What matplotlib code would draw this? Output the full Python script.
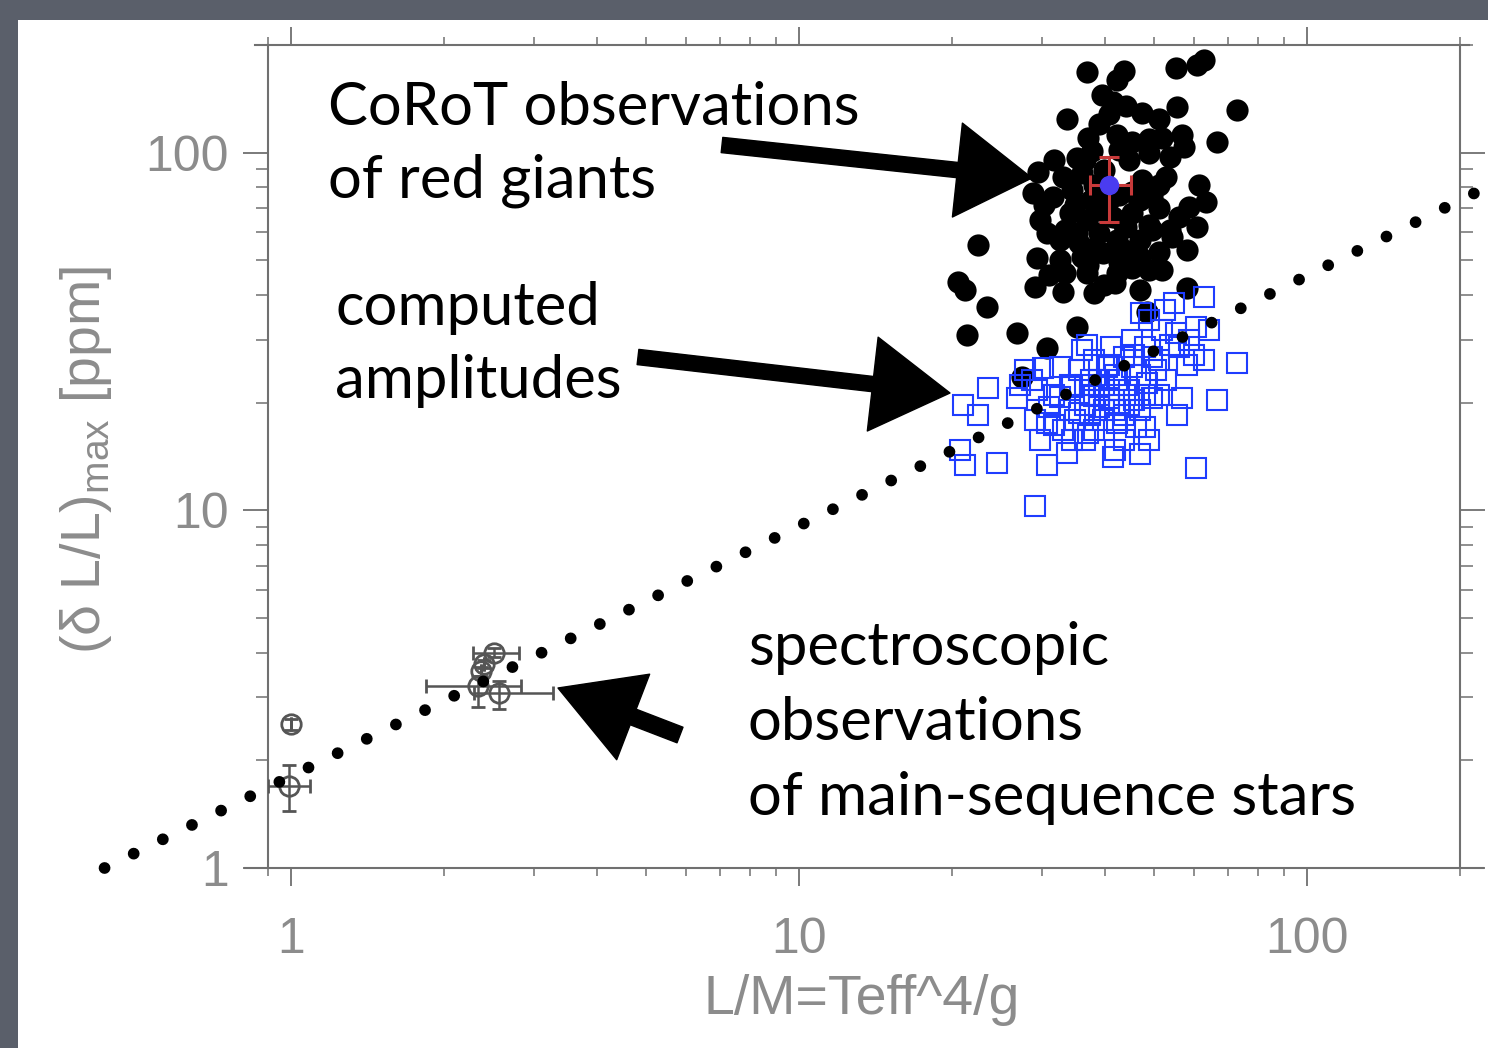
import matplotlib
matplotlib.use('Agg')
import matplotlib.pyplot as plt
from matplotlib.patches import FancyArrowPatch, Rectangle
from matplotlib.ticker import NullFormatter

# CoRoT red giants (filled black dots)
giant_x = [36.8, 43.7, 42.2, 55.3, 60.8, 62.8, 39.4, 41.4, 44.1, 47.4, 40.8, 55.5, 72.9,
           33.6, 66.6, 37.0, 42.3, 45.3, 51.7, 56.8, 57.3, 35.2, 37.8, 48.9, 53.6, 29.5,
           33.0, 36.0, 47.4, 52.8, 28.8, 31.6, 34.5, 37.6, 45.3, 49.6, 63.3, 58.6, 29.8,
           34.1, 36.8, 41.4, 45.3, 51.2, 56.0, 30.7, 35.2, 39.0, 44.1, 49.6, 60.8, 22.5,
           35.6, 42.2, 46.8, 54.3, 57.9, 29.4, 32.6, 36.1, 39.6, 46.8, 51.2, 33.3, 36.8,
           42.2, 45.3, 51.7, 20.5, 21.2, 23.4, 29.1, 33.0, 38.1, 41.8, 35.3, 21.4, 26.8,
           57.9, 48.3, 27.5, 30.7, 38.1, 42.7, 39.0, 43.7, 37.0, 48.9, 39.9, 32.6, 44.7,
           31.8, 42.7, 51.2, 30.4, 33.3, 38.1, 42.7, 48.9, 39.9, 46.8, 53.6, 43.7, 34.9,
           40.8, 46.8, 36.5, 48.9, 39.0, 51.2, 61.3, 31.1]
giant_y = [168, 169, 160, 172, 176, 182, 145, 139, 135, 129, 128, 134, 132,
           124, 107, 110, 112, 107, 110, 112, 104, 96.8, 101, 100, 97.4, 88.5,
           85.7, 87.9, 84.0, 85.7, 77.3, 75.3, 78.8, 73.9, 77.8, 75.3, 72.9, 70.6, 64.9,
           67.9, 64.9, 66.2, 67.9, 70.2, 66.2, 59.7, 59.7, 59.7, 62.0, 60.8, 62.0, 55.3,
           56.0, 57.1, 57.1, 58.2, 53.5, 50.8, 50.1, 51.1, 52.5, 51.1, 52.8, 46.1, 46.1,
           46.1, 47.6, 47.0, 43.5, 41.3, 37.0, 42.1, 40.8, 40.5, 43.3, 32.6, 30.9, 31.3,
           41.9, 35.9, 23.6, 28.4, 81.4, 76.3, 69.2, 53.5, 48.6, 62.9, 89.6, 57.1, 95.6,
           95.6, 102, 81.4, 71.5, 60.8, 54.2, 49.5, 47.0, 42.7, 41.3, 60.8, 62.9, 71.5,
           73.9, 73.9, 95.6, 109, 120, 124, 81.4, 45.5]

# computed amplitudes (open blue squares)
model_x = [62.8, 54.8, 47.2, 60.5, 55.3, 62.8, 72.9, 57.9, 66.6, 56.8, 55.5, 60.5, 21.0,
           22.5, 23.5, 26.8, 27.8, 29.4, 30.2, 30.8, 29.8, 33.0, 33.6, 30.8, 34.5, 36.0,
           37.0, 41.4, 41.8, 46.8, 47.9, 42.2, 46.1, 20.7, 21.2, 24.5, 29.1, 49.6, 50.5,
           41.2, 36.8, 45.3, 51.9, 49.4, 40.3, 34.5, 39.0, 44.7, 52.8, 56.0, 32.6, 37.6,
           42.3, 45.3, 48.5, 35.6, 32.6, 39.6, 31.1, 28.7, 46.8, 38.1, 40.8, 42.7, 36.5,
           43.7, 38.1, 47.9, 51.2, 34.1, 39.9, 35.6, 48.9, 27.2, 31.8, 52.4,
           37.3, 41.8, 44.7, 39.0, 46.8, 34.9, 38.1, 43.7, 51.2, 40.8, 34.1, 31.8, 45.7,
           53.6, 58.6, 60.0, 64.2, 36.5, 48.9, 29.1,
           36.5, 39.0, 42.7, 45.7, 39.9, 37.3, 43.7, 47.9, 41.8]
model_y = [39.5, 38.0, 35.6, 32.6, 31.3, 26.3, 25.8, 25.5, 20.3, 20.6, 18.5, 13.1, 19.7,
           18.5, 22.0, 20.6, 24.7, 21.7, 25.0, 17.5, 15.7, 16.8, 14.5, 13.4, 15.7, 28.1,
           16.5, 14.1, 14.7, 14.4, 17.1, 17.5, 17.1, 14.7, 13.4, 13.6, 10.3, 20.6, 24.7,
           28.6, 29.0, 29.9, 31.9, 26.8, 25.2, 22.1, 19.4, 21.7, 23.1, 28.6, 20.7, 23.1,
           23.1, 25.2, 22.7, 18.7, 25.2, 17.9, 19.4, 23.1, 19.1, 20.9, 20.6, 19.7, 19.7,
           26.8, 26.3, 28.6, 26.3, 19.1, 22.4, 24.7, 34.0, 22.4, 17.3, 36.3,
           21.0, 19.1, 19.7, 23.1, 23.9, 17.9, 16.8, 15.7, 21.0, 25.5, 22.4, 21.0, 27.2,
           29.0, 29.9, 27.2, 31.9, 15.7, 15.7, 17.9,
           22.4, 21.0, 21.7, 20.3, 19.1, 18.5, 18.5, 21.0, 23.9]

# spectroscopic observations of main-sequence stars
ms_x = [0.99, 1.00, 2.51, 2.40, 2.36, 2.33, 2.56]
ms_y = [1.70, 2.52, 4.00, 3.72, 3.55, 3.23, 3.09]
ms_xerr_lo = [0.09, 0.0, 0.23, 0.0, 0.0, 0.49, 0.27]
ms_xerr_hi = [0.10, 0.0, 0.30, 0.0, 0.0, 0.50, 0.71]
ms_yerr_lo = [0.26, 0.09, 0.12, 0.10, 0.10, 0.41, 0.30]
ms_yerr_hi = [0.24, 0.09, 0.12, 0.10, 0.10, 0.22, 0.25]

# mean of the CoRoT sample
mean_x = [40.8]
mean_y = [81.4]
mean_xerr = [[3.5], [4.3]]
mean_yerr = [[17.3], [16.1]]

# scaling relation (dotted)
fit_x = [0.429, 240]
fit_y = [1.0, 83.6]

x_ticks = [1, 10, 100]
y_ticks = [1, 10, 100]
tick_labels = ['1', '10', '100']

W, H = 1488, 1048
grey = '#8c8c8c'
axis_grey = '#707070'

plt.rcParams['font.family'] = ['Liberation Sans', 'DejaVu Sans']
plt.rcParams['mathtext.fontset'] = 'custom'
plt.rcParams['mathtext.rm'] = 'Liberation Sans'

fig = plt.figure(figsize=(W / 100, H / 100), dpi=100, facecolor='#5a5f6a')
# white slide area, kept behind the axes
fig.patches.append(Rectangle((18 / W, 0), 1, 1 - 20 / H, transform=fig.transFigure,
                             facecolor='white', edgecolor='none', zorder=-10))

ax = fig.add_axes([268 / W, 180 / H, 1192 / W, 823 / H])
ax.set_xscale('log')
ax.set_yscale('log')
ax.set_xlim(0.9, 200)
ax.set_ylim(1, 200)

ax.plot(giant_x, giant_y, 'o', color='black', ms=16, mec='none', zorder=2)
ax.plot(model_x, model_y, 's', mfc='none', mec='#1f3dff', mew=1.5, ms=14.5, zorder=3)
ax.errorbar(ms_x, ms_y, xerr=[ms_xerr_lo, ms_xerr_hi], yerr=[ms_yerr_lo, ms_yerr_hi],
            fmt='o', mfc='none', mec='#555555', mew=2, ms=14, ecolor='#555555',
            elinewidth=1.8, capsize=5, capthick=1.8, zorder=4)
ax.errorbar(mean_x, mean_y, xerr=mean_xerr, yerr=mean_yerr, fmt='o', color='#4a3cf0',
            ms=13, ecolor='#c83a3a', elinewidth=2.2, capsize=7, capthick=2.2, zorder=6)

# power law drawn as round dots, running past the frame like in the slide
ax.plot(fit_x, fit_y, color='black', lw=8.5, linestyle=(0, (0.001, 2.75)),
        dash_capstyle='round', clip_on=False, zorder=5)

for s in ax.spines.values():
    s.set_color(axis_grey)
    s.set_linewidth(1.5)
# IDL style frame: horizontal lines run a little past the corners
ax.spines['bottom'].set_bounds(0.81, 222)
ax.spines['top'].set_bounds(0.85, 208)

ax.set_xticks(x_ticks, labels=tick_labels)
ax.set_yticks(y_ticks, labels=tick_labels)
ax.xaxis.set_minor_formatter(NullFormatter())
ax.yaxis.set_minor_formatter(NullFormatter())
ax.tick_params(which='both', direction='out', top=True, right=True,
               color=axis_grey, labelcolor=grey, labelsize=36)
ax.tick_params(axis='x', which='major', length=13, width=1.3, pad=22)
ax.tick_params(axis='x', which='minor', length=6, width=1.1)
ax.tick_params(axis='y', which='major', length=18, width=1.3, pad=10)
ax.tick_params(axis='y', which='minor', length=9, width=1.1)

ax.text(-0.153, 0.496, '(δ L/L)$_{\\rm max}$ [ppm]', transform=ax.transAxes, rotation=90,
        ha='center', va='center', fontsize=40, color=grey)
ax.text(0.498, -0.16, 'L/M=Teff^4/g', transform=ax.transAxes, ha='center', va='center',
        fontsize=40, color=grey)

# slide annotations
notes = [('CoRoT observations', 328, 125), ('of red giants', 328, 198),
         ('computed', 335, 325), ('amplitudes', 335, 398),
         ('spectroscopic', 748, 665), ('observations', 748, 740),
         ('of main-sequence stars', 748, 815)]
for txt, px, py in notes:
    fig.text(px / W, 1 - py / H, txt, family=['Lato', 'DejaVu Sans'], fontsize=43,
             color='black', ha='left', va='baseline', zorder=10)


def sketch_arrow(tail, tip, head_len, head_w, tail_w):
    arrow = FancyArrowPatch(posA=(tail[0] / W, 1 - tail[1] / H),
                            posB=(tip[0] / W, 1 - tip[1] / H),
                            transform=fig.transFigure,
                            arrowstyle=f'simple,head_length={head_len},head_width={head_w},tail_width={tail_w}',
                            mutation_scale=1, color='black', shrinkA=0, shrinkB=0, zorder=10)
    fig.patches.append(arrow)


sketch_arrow((722, 145), (1032, 178), 54, 68, 11)
sketch_arrow((638, 357), (950, 393), 56, 68, 11)
sketch_arrow((680, 735), (558, 688), 58, 66, 12)

fig.savefig('out.png', dpi=100, facecolor=fig.get_facecolor())
